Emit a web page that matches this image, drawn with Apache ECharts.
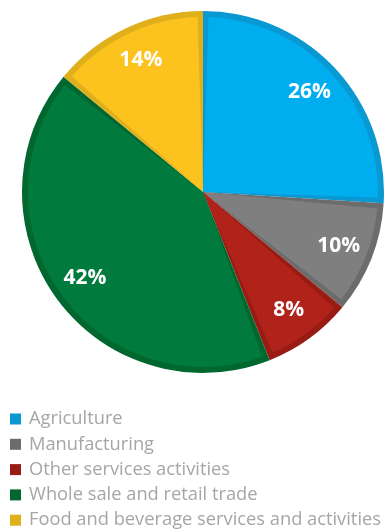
<!DOCTYPE html>
<html>
<head>
<meta charset="utf-8">
<script src="https://cdn.jsdelivr.net/npm/echarts@6/dist/echarts.min.js"></script>
<style>
  html, body { margin: 0; padding: 0; background: #fff; }
  #chart { width: 385px; height: 531px; }
</style>
</head>
<body>
<div id="chart"></div>
<script>
// Share of enterprises by sector (%)
const categories = [
  'Agriculture',
  'Manufacturing',
  'Other services activities',
  'Whole sale and retail trade',
  'Food and beverage services and activities'
];
const shares = [26, 10, 8, 42, 14];
const fillColors = ['#00AEEF', '#7F7F7F', '#B0221A', '#007A3D', '#FCC31E'];
const edgeColors = ['#0998D2', '#6C6C6C', '#981C14', '#00682F', '#E0AF1C'];

const chart = echarts.init(document.getElementById('chart'), null, { renderer: 'canvas' });

const center = [203, 192];
const outerR = 181;
const edge = 6;

const rows = (colors) => categories.map((name, i) => ({
  name, value: shares[i], itemStyle: { color: colors[i] }
}));

chart.setOption({
  animation: false,
  legend: {
    orient: 'vertical',
    left: 5,
    top: 405,
    height: 130,
    itemWidth: 11,
    itemHeight: 11,
    itemGap: 7.3,
    icon: 'rect',
    textStyle: {
      color: '#a6a6a6', fontSize: 18.3, lineHeight: 18,
      fontFamily: 'Open Sans', padding: [0, 0, 0, 3]
    },
    data: categories
  },
  series: [
    {
      // darker rim behind each slice
      type: 'pie',
      center, radius: [0, outerR],
      silent: true,
      label: { show: false },
      labelLine: { show: false },
      data: rows(edgeColors)
    },
    {
      // slice fills, inset so the rim shows around them
      type: 'pie',
      center, radius: [0, outerR - edge],
      padAngle: 3.6,
      silent: true,
      label: { show: false },
      labelLine: { show: false },
      data: rows(fillColors)
    },
    {
      // percentage labels
      type: 'pie',
      center, radius: [105, outerR],
      silent: true,
      itemStyle: { color: 'rgba(0,0,0,0)' },
      label: {
        show: true,
        position: 'inside',
        formatter: '{c}%',
        color: '#fff',
        fontSize: 21,
        fontWeight: 'bold',
        fontFamily: 'Open Sans'
      },
      labelLine: { show: false },
      data: categories.map((name, i) => ({ name: name + ' ', value: shares[i] }))
    }
  ]
});
</script>
</body>
</html>
